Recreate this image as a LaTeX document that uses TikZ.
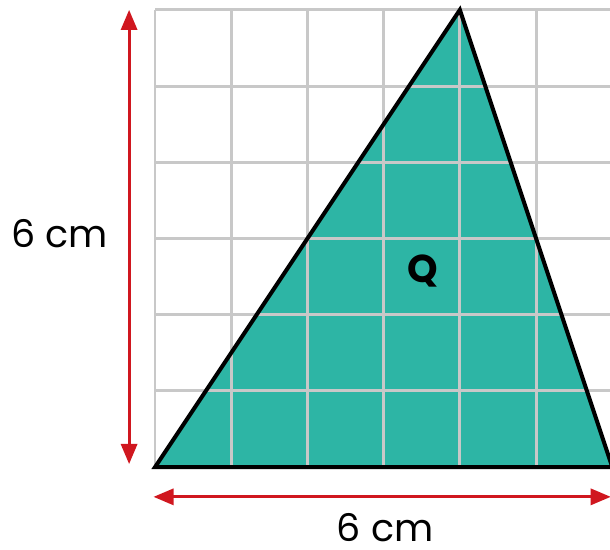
\documentclass[tikz,border=0pt]{standalone}
\usepackage{fontspec}
\setmainfont{Poppins}
\usepackage{tikz}
\usetikzlibrary{arrows.meta,calc}
\definecolor{gridc}{RGB}{200,200,200}
\definecolor{tealq}{RGB}{45,181,165}
\definecolor{redm}{RGB}{208,23,31}

\begin{document}
\begin{tikzpicture}[x=1cm,y=1cm,
  gridl/.style={gridc,line width=1.1pt},
  trifill/.style={fill=tealq},
  triedge/.style={black,line width=1.5pt,line join=miter},
  dim/.style={{Triangle[length=7.5pt,width=6pt]}-{Triangle[length=7.5pt,width=6pt]},redm,line width=1.1pt},
  lbl/.style={font=\fontsize{14.2}{16}\selectfont,inner sep=0pt},
  qlbl/.style={font=\fontsize{14.5}{16}\selectfont\bfseries,inner sep=0pt}]

  \useasboundingbox (-2.034,-1.076) rectangle (5.97,6.129);

  % triangle corners
  \coordinate (A) at (0,0);
  \coordinate (B) at (6,0);
  \coordinate (C) at (4,6);

  \fill[trifill] (A)--(B)--(C)--cycle;
  \draw[gridl] (0,0) grid (6,6);
  \draw[triedge] (A)--(B)--(C)--cycle;

  % dimension arrows
  \coordinate (V1) at (-0.34,6.0);
  \coordinate (V2) at (-0.34,0.04);
  \coordinate (H1) at (-0.02,-0.39);
  \coordinate (H2) at (5.98,-0.39);
  \draw[dim] (V1)--(V2);
  \draw[dim] (H1)--(H2);

  \node[lbl] (Lv) at (-1.25,3.07) {6 cm};
  \node[lbl] (Lh) at (3.02,-0.79) {6 cm};
  \node[qlbl] (Q) at (3.52,2.57) {Q};
\end{tikzpicture}
\end{document}
